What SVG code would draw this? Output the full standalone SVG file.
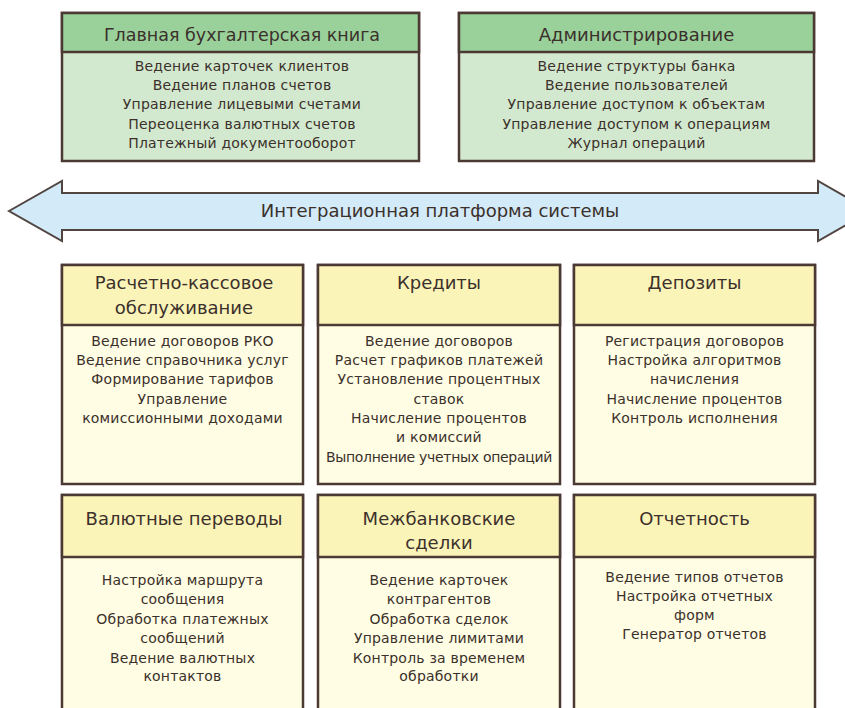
<svg xmlns="http://www.w3.org/2000/svg" width="845" height="708" viewBox="0 0 845 708">
<style>
.box{stroke:#4b3a33;stroke-width:2.5}
.gh{fill:#9ad19b}
.gb{fill:#d3e9cf}
.yh{fill:#fbf4b8}
.yb{fill:#fffde3}
text{font-family:"DejaVu Sans","Liberation Sans",sans-serif;fill:#3b302b;text-anchor:middle}
.t{font-size:18px}
.b{font-size:14px;letter-spacing:0.2px}
</style>
<rect width="845" height="708" fill="#ffffff"/>

<g id="ledger">
<rect class="box gb" x="62" y="13" width="357" height="148"/>
<rect class="box gh" x="62" y="13" width="357" height="39"/>
<text class="t" x="242" y="41" style="font-size:17.5px">Главная бухгалтерская книга</text>
<text class="b" x="242" y="71">Ведение карточек клиентов</text>
<text class="b" x="242" y="90">Ведение планов счетов</text>
<text class="b" x="242" y="109">Управление лицевыми счетами</text>
<text class="b" x="242" y="129">Переоценка валютных счетов</text>
<text class="b" x="242" y="148">Платежный документооборот</text>
</g>

<g id="admin">
<rect class="box gb" x="459" y="13" width="355" height="148"/>
<rect class="box gh" x="459" y="13" width="355" height="39"/>
<text class="t" x="636.5" y="41">Администрирование</text>
<text class="b" x="636.5" y="71">Ведение структуры банка</text>
<text class="b" x="636.5" y="90">Ведение пользователей</text>
<text class="b" x="636.5" y="109">Управление доступом к объектам</text>
<text class="b" x="636.5" y="129">Управление доступом к операциям</text>
<text class="b" x="636.5" y="148">Журнал операций</text>
</g>

<g id="platform">
<path d="M9,211 L62,181 L62,193 L818,193 L818,181 L871,211 L818,241 L818,230 L62,230 L62,241 Z" fill="#d3eaf8" stroke="#514541" stroke-width="2" stroke-linejoin="miter"/>
<text class="t" x="440" y="217">Интеграционная платформа системы</text>
</g>

<g id="rko">
<rect class="box yb" x="62" y="265" width="241" height="219"/>
<rect class="box yh" x="62" y="265" width="241" height="60"/>
<text class="t" x="184" y="289">Расчетно-кассовое</text>
<text class="t" x="184" y="314">обслуживание</text>
<text class="b" x="182.5" y="346">Ведение договоров РКО</text>
<text class="b" x="182.5" y="365">Ведение справочника услуг</text>
<text class="b" x="182.5" y="384">Формирование тарифов</text>
<text class="b" x="182.5" y="404">Управление</text>
<text class="b" x="182.5" y="423">комиссионными доходами</text>
</g>

<g id="credits">
<rect class="box yb" x="318" y="265" width="242" height="219"/>
<rect class="box yh" x="318" y="265" width="242" height="60"/>
<text class="t" x="439" y="289">Кредиты</text>
<text class="b" x="439" y="346">Ведение договоров</text>
<text class="b" x="439" y="365">Расчет графиков платежей</text>
<text class="b" x="439" y="384">Установление процентных</text>
<text class="b" x="439" y="404">ставок</text>
<text class="b" x="439" y="423">Начисление процентов</text>
<text class="b" x="439" y="442">и комиссий</text>
<text class="b" x="439" y="462" style="letter-spacing:-0.3px">Выполнение учетных операций</text>
</g>

<g id="deposits">
<rect class="box yb" x="574" y="265" width="241" height="219"/>
<rect class="box yh" x="574" y="265" width="241" height="60"/>
<text class="t" x="694.5" y="289">Депозиты</text>
<text class="b" x="694.5" y="346">Регистрация договоров</text>
<text class="b" x="694.5" y="365">Настройка алгоритмов</text>
<text class="b" x="694.5" y="384">начисления</text>
<text class="b" x="694.5" y="404">Начисление процентов</text>
<text class="b" x="694.5" y="423">Контроль исполнения</text>
</g>

<g id="fx">
<rect class="box yb" x="62" y="495" width="241" height="230"/>
<rect class="box yh" x="62" y="495" width="241" height="62"/>
<text class="t" x="184" y="525">Валютные переводы</text>
<text class="b" x="182.5" y="585">Настройка маршрута</text>
<text class="b" x="182.5" y="604">сообщения</text>
<text class="b" x="182.5" y="624">Обработка платежных</text>
<text class="b" x="182.5" y="643">сообщений</text>
<text class="b" x="182.5" y="663">Ведение валютных</text>
<text class="b" x="182.5" y="681">контактов</text>
</g>

<g id="interbank">
<rect class="box yb" x="318" y="495" width="242" height="230"/>
<rect class="box yh" x="318" y="495" width="242" height="62"/>
<text class="t" x="439" y="525">Межбанковские</text>
<text class="t" x="439" y="549">сделки</text>
<text class="b" x="439" y="585">Ведение карточек</text>
<text class="b" x="439" y="604">контрагентов</text>
<text class="b" x="439" y="624">Обработка сделок</text>
<text class="b" x="439" y="643">Управление лимитами</text>
<text class="b" x="439" y="663">Контроль за временем</text>
<text class="b" x="439" y="681">обработки</text>
</g>

<g id="reports">
<rect class="box yb" x="574" y="495" width="241" height="230"/>
<rect class="box yh" x="574" y="495" width="241" height="62"/>
<text class="t" x="694.5" y="525">Отчетность</text>
<text class="b" x="694.5" y="582">Ведение типов отчетов</text>
<text class="b" x="694.5" y="601">Настройка отчетных</text>
<text class="b" x="694.5" y="620">форм</text>
<text class="b" x="694.5" y="639">Генератор отчетов</text>
</g>
</svg>
